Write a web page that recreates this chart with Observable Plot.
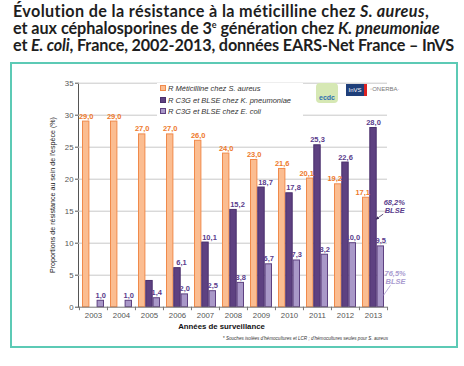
<!DOCTYPE html>
<html><head><meta charset="utf-8">
<script src="https://cdn.jsdelivr.net/npm/d3@7"></script>
<script src="https://cdn.jsdelivr.net/npm/@observablehq/plot@0.6"></script>
<style>
body{margin:0;background:#fff;}
#wrap{position:relative;width:464px;height:366px;overflow:hidden;font-family:"Liberation Sans",Arial,sans-serif;}
.tl{position:absolute;left:13px;font:bold 16.2px Lato,"Open Sans",sans-serif;color:#1e1e1e;white-space:nowrap;line-height:16px;}
.tl sup{font-size:9px;line-height:0;}
#box{position:absolute;left:10px;top:62px;width:444px;height:282px;border:2px solid #5ccab5;}
#chart{position:absolute;left:12px;top:64px;}
#legend{position:absolute;left:157px;top:83px;width:146px;height:35px;background:#fff;font-style:italic;font-size:7.5px;color:#333;}
#legend div{position:absolute;left:3px;white-space:nowrap;}
#legend span.sw{display:inline-block;width:4px;height:4px;margin-right:2px;vertical-align:0px;}
#logos{position:absolute;left:314px;top:83px;width:96px;height:22px;font-size:6px;}
#xlabel{position:absolute;left:0;width:443px;text-align:center;top:322px;font-weight:bold;font-size:7.8px;color:#111;}
#ylabel{position:absolute;left:52.7px;top:194.7px;transform:translate(-50%,-50%) rotate(-90deg);font-size:7.1px;color:#222;white-space:nowrap;}
#foot{position:absolute;right:76px;top:336px;font-style:italic;font-size:4.6px;color:#333;white-space:nowrap;}
</style></head>
<body><div id="wrap">
<div class="tl" style="top:3px;letter-spacing:0.35px">Évolution de la résistance à la méticilline chez <i>S. aureus</i>,</div>
<div class="tl" style="top:20px;letter-spacing:-0.05px">et aux céphalosporines de 3<sup>e</sup> génération chez <i>K. pneumoniae</i></div>
<div class="tl" style="top:37px;letter-spacing:-0.15px">et <i>E. coli</i>, France, 2002-2013, données EARS-Net France – InVS</div>
<div id="box"></div>
<div id="chart"></div>
<div id="legend"></div>
<div id="logos">
 <span style="position:absolute;left:2px;top:0;width:22px;height:20px;border-radius:4px;background:#d6e8b4;color:#2f6fb0;font-weight:bold;font-size:7px;line-height:30px;text-align:center;">ecdc</span>
 <span style="position:absolute;left:32px;top:1px;width:18px;height:12px;background:#1f3f7a;color:#fff;font-size:6px;line-height:12px;text-align:center;border-right:3px solid #d22;">InVS</span>
 <span style="position:absolute;left:56px;top:3px;color:#777;font-size:6px;">◦ONERBA<span style="color:#c6c">·</span></span>
</div>
<div id="ylabel">Proportions de résistance au sein de l'espèce (%)</div>
<div id="xlabel">Années de surveillance</div>
<div id="foot">* Souches isolées d'hémocultures et LCR ; d'hémocultures seules pour S. aureus</div>
</div>
<script>
const years = ["2003","2004","2005","2006","2007","2008","2009","2010","2011","2012","2013"];
const saValues = [29.0,29.0,27.0,27.0,26.0,24.0,23.0,21.6,20.1,19.2,17.1];
const kpValues = [null,null,4.1,6.1,10.1,15.2,18.7,17.8,25.3,22.6,28.0];
const kpLabelled = [false,false,false,true,true,true,true,true,true,true,true];
const ecValues = [1.0,1.0,1.4,2.0,2.5,3.8,6.7,7.3,8.2,10.0,9.5];
const seriesNames = ["R Méticilline chez S. aureus","R C3G et BLSE chez K. pneumoniae","R C3G et BLSE chez E. coli"];
const yTicks = [0,5,10,15,20,25,30,35];
const blseKp = "68,2%";
const blseEc = "76,5%";

const colors = {
  sa:{fill:"#fbbd91",stroke:"#f08a4b",label:"#ee7a2c"},
  kp:{fill:"#5e4181",stroke:"#4a2f6c",label:"#5a3c8c"},
  ec:{fill:"#a998c8",stroke:"#5e4181",label:"#5a3c8c"}
};

// a label is nudged away from a taller neighbouring bar
const sa = years.map((y,i)=>({year:y,value:saValues[i],crowded:kpValues[i]!=null && kpValues[i]>saValues[i]}));
const kp = years.map((y,i)=>({year:y,value:kpValues[i],labelled:kpLabelled[i],crowded:saValues[i]>kpValues[i]})).filter(d=>d.value!=null);
const ec = years.map((y,i)=>({year:y,value:ecValues[i]}));
const fmt = v => d3.format(".1f")(v).replace(".", ",");

const W=440,H=280,ML=66,MR=65,MT=18.7,MB=37.3, PI=0.22, PO=0.11;
const step=(W-ML-MR)/(years.length-PI+2*PO);
const bw=step*(1-PI), sub=bw/3;
const lab = {dy:-3,lineAnchor:"bottom",fontWeight:"bold",fontSize:7.5};

const plot = Plot.plot({
  width:W,height:H,marginLeft:ML,marginRight:MR,marginTop:MT,marginBottom:MB,
  style:{fontFamily:"Liberation Sans, Arial, sans-serif",fontSize:"7.8px",color:"#555",background:"transparent",overflow:"visible"},
  x:{type:"band",domain:years,paddingInner:PI,paddingOuter:PO,align:0.5,tickSize:0,tickPadding:5,label:null},
  y:{domain:[0,35],ticks:yTicks,tickSize:3,tickPadding:2,line:true,tickFormat:d=>String(d),label:null},
  marks:[
    Plot.ruleY(yTicks.filter(t=>t>0),{stroke:"#c8c8c8",strokeWidth:1}),
    Plot.barY(sa,{x:"year",y:"value",fill:colors.sa.fill,stroke:colors.sa.stroke,strokeWidth:1,insetLeft:0.5,insetRight:2*sub+0.5}),
    Plot.barY(kp,{x:"year",y:"value",fill:colors.kp.fill,stroke:colors.kp.stroke,strokeWidth:1,insetLeft:sub+0.5,insetRight:sub+0.5}),
    Plot.barY(ec,{x:"year",y:"value",fill:colors.ec.fill,stroke:colors.ec.stroke,strokeWidth:1,insetLeft:2*sub+0.5,insetRight:0.5}),
    Plot.ruleY([0],{stroke:"#777"}),
    Plot.ruleX(years,{x:d=>d,y1:0,y2:-0.55,dx:-step/2,stroke:"#777"}),
    Plot.ruleX(years.slice(-1),{x:d=>d,y1:0,y2:-0.55,dx:step/2,stroke:"#777"}),
    Plot.text(sa.filter(d=>!d.crowded),{x:"year",y:"value",text:d=>fmt(d.value),dx:-sub,fill:colors.sa.label,...lab}),
    Plot.text(sa.filter(d=>d.crowded),{x:"year",y:"value",text:d=>fmt(d.value),dx:-sub-3.5,fill:colors.sa.label,...lab}),
    Plot.text(kp.filter(d=>d.labelled && !d.crowded),{x:"year",y:"value",text:d=>fmt(d.value),dx:0,fill:colors.kp.label,...lab}),
    Plot.text(kp.filter(d=>d.labelled && d.crowded),{x:"year",y:"value",text:d=>fmt(d.value),dx:4,fill:colors.kp.label,...lab}),
    Plot.text(ec,{x:"year",y:"value",text:d=>fmt(d.value),dx:sub,fill:colors.ec.label,...lab})
  ]
});
document.getElementById("chart").appendChild(plot);

// annotations anchored on the drawn 2013 bars (their geometry comes from the plot's scales)
const svg = d3.select(plot);
const barGroups = svg.selectAll('g[aria-label="bar"]').nodes();
function lastRect(g){
  const rs = g.querySelectorAll("rect"); const r = rs[rs.length-1];
  const x = +r.getAttribute("x"), w = +r.getAttribute("width"), y = +r.getAttribute("y"), h = +r.getAttribute("height");
  return {right:x+w, top:y, mid:y+h/2, bottom:y+h};
}
const kpBar = lastRect(barGroups[1]), ecBar = lastRect(barGroups[2]);
const defs = svg.append("defs");
defs.append("marker").attr("id","ah").attr("viewBox","0 0 6 6").attr("refX",5).attr("refY",3)
  .attr("markerWidth",4).attr("markerHeight",4).attr("orient","auto")
  .append("path").attr("d","M0,0L6,3L0,6Z").attr("fill","#3b2a5a");
const ann = svg.append("g").attr("text-anchor","start").attr("font-family","Liberation Sans, Arial, sans-serif").attr("font-size",7.5).attr("font-weight","bold").attr("font-style","italic");
const kR = kpBar.right, yk = kpBar.mid;
ann.append("text").attr("x",kR+7.5).attr("y",yk-12).attr("fill",colors.kp.label).text(blseKp);
ann.append("text").attr("x",kR+8.5).attr("y",yk-4.5).attr("fill",colors.kp.label).text("BLSE");
ann.append("line").attr("x1",kR+7).attr("y1",yk-3).attr("x2",kR).attr("y2",yk+2)
  .attr("stroke","#3b2a5a").attr("stroke-width",0.8).attr("marker-end","url(#ah)");
const eR = ecBar.right, ye = ecBar.mid;
ann.append("text").attr("x",eR+1).attr("y",ye-0.5).attr("fill","#aa9bd0").text(blseEc);
ann.append("text").attr("x",eR+2).attr("y",ye+7.5).attr("fill","#aa9bd0").text("BLSE");
ann.append("line").attr("x1",eR+7).attr("y1",ye+9).attr("x2",eR).attr("y2",ye+19)
  .attr("stroke","#aa9bd0").attr("stroke-width",0.8);

// legend
const lg = d3.select("#legend");
const sw = [colors.sa, colors.kp, colors.ec];
seriesNames.forEach((n,i)=>{
  const row = lg.append("div").style("top",(1+i*11.5)+"px");
  row.append("span").attr("class","sw").style("background",sw[i].fill).style("border","1px solid "+sw[i].stroke);
  row.append("span").text(n);
});
</script>
</body></html>
